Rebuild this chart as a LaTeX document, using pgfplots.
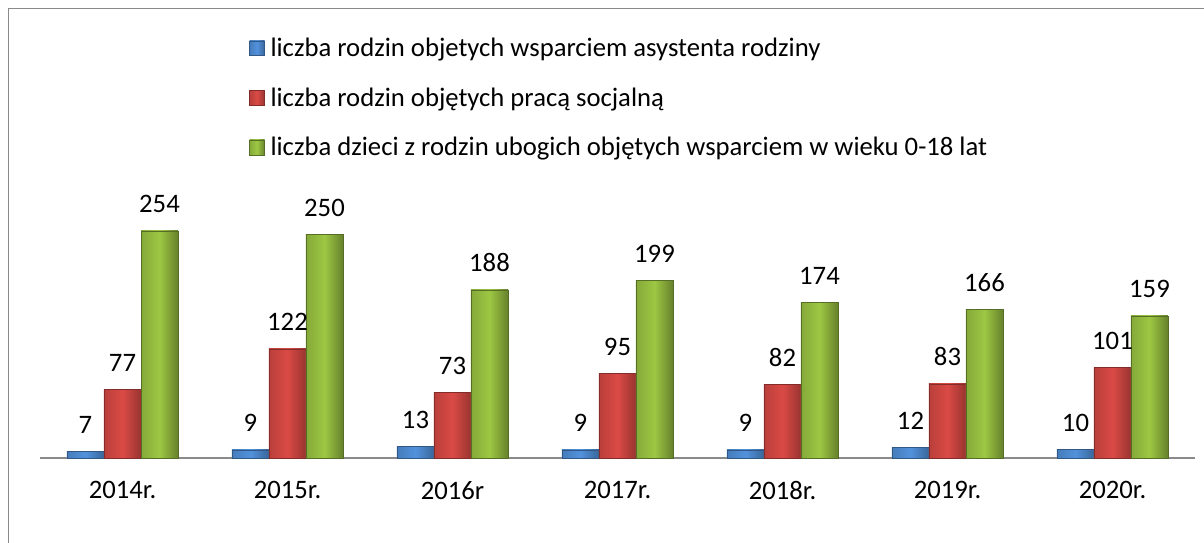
\documentclass[border=0pt]{standalone}
\usepackage{pgfplots}
\pgfplotsset{compat=1.18}
\usepackage{fontspec}
\setmainfont{Carlito}
\definecolor{bluemid}{HTML}{5292DC}
\definecolor{redmid}{HTML}{DA4A45}
\definecolor{greenmid}{HTML}{9DC743}
\definecolor{framegray}{HTML}{8A8A8A}
\pgfplotsset{
  sblue/.style={ybar, bar shift=-27.75pt, draw=bluemid!60!black, left color=bluemid!85!black, right color=bluemid!70!black, middle color=bluemid},
  sred/.style={ybar, bar shift=0pt, draw=redmid!60!black, left color=redmid!85!black, right color=redmid!70!black, middle color=redmid},
  sgreen/.style={ybar, bar shift=27.75pt, draw=greenmid!55!black, left color=greenmid!85!black, right color=greenmid!65!black, middle color=greenmid},
}
\begin{document}
\begin{tikzpicture}
\path[use as bounding box] (0pt,0pt) rectangle (903pt,407.25pt);
\draw[framegray, line width=1.2pt] (6.4pt,0pt) -- (6.4pt,400.9pt) -- (903pt,400.9pt);
\begin{axis}[
  at={(30pt,63.75pt)}, anchor=south west,
  scale only axis, width=866.25pt, height=187.7pt,
  xmin=-0.5, xmax=6.5, ymin=0, ymax=280,
  ybar, bar width=27.75pt,
  axis x line*=bottom, hide y axis,
  x axis line style={framegray, line width=1.4pt, -},
  xtick={0,1,2,3,4,5,6},
  xticklabels={2014r.,2015r.,2016r,2017r.,2018r.,2019r.,2020r.},
  xtick style={draw=none},
  xticklabel style={font=\fontsize{20}{24}\selectfont, yshift=-9.5pt},
  /pgf/number format/assume math mode=true,
  nodes near coords,
  every node near coord/.append style={font=\fontsize{20}{24}\selectfont, anchor=base, inner sep=0pt, yshift=13.5pt},
  legend style={at={(axis description cs:0.1810,1.69)}, anchor=north west, draw=none, fill=none,
    font=\fontsize{20}{24}\selectfont, row sep=17.8pt, inner sep=0pt},
  legend cell align=left,
  legend image code/.code={\fill[#1] (0pt,-5.6pt) rectangle (11.2pt,5.6pt); \path (13.5pt,0pt);},
  clip=false,
]
% 2014 (first of each series carries the legend entry)
\addplot[sblue] coordinates {(0,7)};
\addplot[sred] coordinates {(0,77)};
\addplot[sgreen] coordinates {(0,254)};
% 2015
\addplot[sblue, forget plot] coordinates {(1,9)};
\addplot[sred, forget plot] coordinates {(1,122)};
\addplot[sgreen, forget plot] coordinates {(1,250)};
% 2016
\addplot[sblue, forget plot] coordinates {(2,13)};
\addplot[sred, forget plot] coordinates {(2,73)};
\addplot[sgreen, forget plot] coordinates {(2,188)};
% 2017
\addplot[sblue, forget plot] coordinates {(3,9)};
\addplot[sred, forget plot] coordinates {(3,95)};
\addplot[sgreen, forget plot] coordinates {(3,199)};
% 2018
\addplot[sblue, forget plot] coordinates {(4,9)};
\addplot[sred, forget plot] coordinates {(4,82)};
\addplot[sgreen, forget plot] coordinates {(4,174)};
% 2019
\addplot[sblue, forget plot] coordinates {(5,12)};
\addplot[sred, forget plot] coordinates {(5,83)};
\addplot[sgreen, forget plot] coordinates {(5,166)};
% 2020
\addplot[sblue, forget plot] coordinates {(6,10)};
\addplot[sred, forget plot] coordinates {(6,101)};
\addplot[sgreen, forget plot] coordinates {(6,159)};
\legend{liczba rodzin objetych wsparciem asystenta rodziny, liczba rodzin objętych pracą socjalną, liczba dzieci z rodzin ubogich objętych wsparciem w wieku 0-18 lat}
\end{axis}
\end{tikzpicture}
\end{document}
